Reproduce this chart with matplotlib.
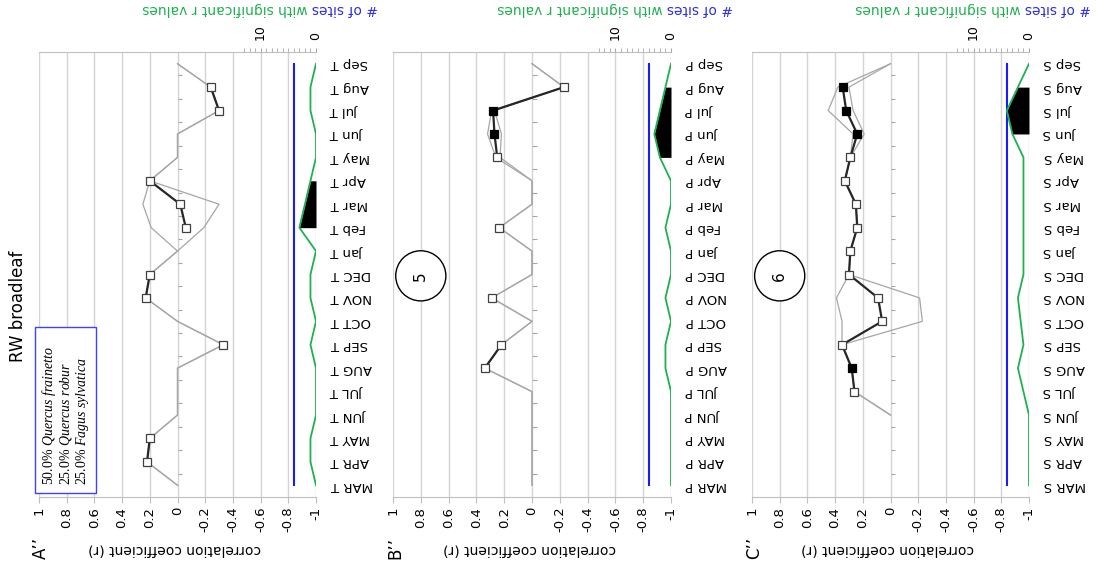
import numpy as np
import matplotlib
matplotlib.use('Agg')
import matplotlib.pyplot as plt
from matplotlib.patches import Rectangle

plt.rcParams['font.family'] = 'DejaVu Sans'
plt.rcParams['mathtext.fontset'] = 'custom'
plt.rcParams['mathtext.rm'] = 'Liberation Serif'
plt.rcParams['mathtext.it'] = 'Liberation Serif:italic'

nan = np.nan

months = ['MAR', 'APR', 'MAY', 'JUN', 'JUL', 'AUG', 'SEP', 'OCT', 'NOV', 'DEC',
          'Jan', 'Feb', 'Mar', 'Apr', 'May', 'Jun', 'Jul', 'Aug', 'Sep']

r_ticks = [1, 0.8, 0.6, 0.4, 0.2, 0, -0.2, -0.4, -0.6, -0.8, -1]
r_labels = ['1', '0.8', '0.6', '0.4', '0.2', '0', '-0.2', '-0.4', '-0.6', '-0.8', '-1']

n_sites = 4

# A'' temperature
a_mean = [nan, 0.22, 0.20, nan, nan, nan, -0.33, nan, 0.23, 0.20, nan, -0.06, -0.02, 0.20, nan, nan, -0.30, -0.24, nan]
a_hi = [0, 0.22, 0.20, 0, 0, 0, -0.33, 0, 0.23, 0.20, 0, 0.19, 0.25, 0.20, 0, 0, -0.30, -0.24, 0]
a_lo = [0, 0.22, 0.20, 0, 0, 0, -0.33, 0, 0.23, 0.20, 0, -0.19, -0.30, 0.20, 0, 0, -0.30, -0.24, 0]
a_filled = [0] * 19
a_sig = [0, 1, 1, 0, 0, 0, 1, 0, 1, 1, 0, 3, 2, 1, 0, 0, 1, 1, 0]
a_block = (11, 13)

# B'' precipitation
b_mean = [nan, nan, nan, nan, nan, 0.34, 0.22, nan, 0.29, nan, nan, 0.235, nan, nan, 0.25, 0.27, 0.28, -0.23, nan]
b_hi = [0, 0, 0, 0, 0, 0.34, 0.22, 0, 0.29, 0, 0, 0.235, 0, 0, 0.26, 0.32, 0.29, -0.23, 0]
b_lo = [0, 0, 0, 0, 0, 0.34, 0.22, 0, 0.29, 0, 0, 0.235, 0, 0, 0.23, 0.22, 0.27, -0.23, 0]
b_filled = [0] * 15 + [1, 1, 0, 0]
b_sig = [0, 0, 0, 0, 0, 1, 1, 0, 1, 0, 0, 1, 0, 0, 2, 3, 2, 1, 0]
b_block = (14, 17)

# C'' SPEI
c_mean = [nan, nan, nan, nan, 0.26, 0.28, 0.35, 0.06, 0.09, 0.30, 0.29, 0.24, 0.25, 0.33, 0.29, 0.24, 0.32, 0.345, nan]
c_hi = [nan, nan, nan, 0, 0.26, 0.28, 0.35, 0.35, 0.39, 0.30, 0.29, 0.24, 0.25, 0.33, 0.29, 0.27, 0.45, 0.38, 0]
c_lo = [nan, nan, nan, 0, 0.26, 0.28, 0.35, -0.23, -0.21, 0.30, 0.29, 0.24, 0.25, 0.33, 0.29, 0.19, 0.27, 0.30, 0]
c_filled = [0, 0, 0, 0, 0, 1, 0, 0, 0, 0, 0, 0, 0, 0, 0, 1, 1, 1, 0]
c_sig = [0, 0, 0, 0, 1, 2, 1, 1.5, 2, 1, 1, 1, 1, 1, 1, 3, 4, 2, 0]
c_block = (15, 17)

panels = [
    ('T', a_mean, a_hi, a_lo, a_filled, a_sig, a_block, 'A\u2019\u2019', None),
    ('P', b_mean, b_hi, b_lo, b_filled, b_sig, b_block, 'B\u2019\u2019', '5'),
    ('S', c_mean, c_hi, c_lo, c_filled, c_sig, c_block, 'C\u2019\u2019', '6'),
]

W, H = 1098, 563
fig = plt.figure(figsize=(W / 100, H / 100), dpi=100)

lefts = [39, 393, 752]
widths = [277, 278, 277]
top_px, bot_px = 52, 497

grey = '#bfbfbf'
green = '#1fb050'
blue = '#1a1aff'

for k, (suf, mean, hi, lo, filled, sig, block, tag, circ) in enumerate(panels):
    ax = fig.add_axes([lefts[k] / W, 1 - bot_px / H, widths[k] / W, (bot_px - top_px) / H])
    ax2 = ax.twiny()
    y = np.arange(len(months))
    mean = np.array(mean)
    filled = np.array(filled, bool)
    sig = np.array(sig, float)

    ax.plot(hi, y, color='#a6a6a6', lw=0.9, zorder=3)
    ax.plot(lo, y, color='#a6a6a6', lw=0.9, zorder=3)
    ax.plot(mean, y, color='#262626', lw=1.6, zorder=4)
    ax.plot(mean[~filled], y[~filled], 's', ms=6, mfc='white', mec='#404040', mew=0.9, zorder=5)
    ax.plot(mean[filled], y[filled], 's', ms=6, mfc='black', mec='black', mew=0.9, zorder=5)

    # small ticks on the category axis at r = 0
    ax.hlines(y[:-1] + 0.5, 0, -0.035, color='#a6a6a6', lw=0.8, zorder=2)

    ax.set_xlim(1, -1)
    ax.set_ylim(-0.5, len(months) - 0.5)
    ax.set_xticks(r_ticks)
    ax.set_xticklabels(r_labels, rotation=90, fontsize=9.5)
    ax.grid(axis='x', color='#d4d4d4', lw=1)
    ax.set_axisbelow(True)
    for s in ax.spines.values():
        s.set_visible(False)
    ax.spines['bottom'].set_visible(True)
    ax.spines['bottom'].set_color(grey)
    ax.tick_params(axis='x', direction='out', length=4, color=grey, pad=3)
    ax.set_yticks(y)
    ax.set_yticklabels([m + ' ' + suf for m in months], rotation=180, ha='right',
                       va='center', rotation_mode='anchor', fontsize=9.5)
    ax.tick_params(axis='y', left=False, right=False, labelleft=False, labelright=True, pad=7)

    # number of sites axis
    ax2.set_xlim(50, 0)
    ax2.plot([n_sites] * len(y), y, color=blue, lw=1.5, zorder=3)
    i0, i1 = block
    ax2.fill_betweenx(y[i0:i1 + 1], 0, sig[i0:i1 + 1], color='black', lw=0, zorder=2)
    ax2.plot(sig, y, color=green, lw=1.3, zorder=4)
    ax2.set_xticks([0, 10])
    ax2.set_xticklabels(['0', '10'], rotation=90, fontsize=9)
    ax2.set_xticks(range(1, 14), minor=True)
    ax2.tick_params(axis='x', which='both', direction='out', length=3, color='#a6a6a6', pad=6)
    for s in ax2.spines.values():
        s.set_visible(False)
    ax2.spines['top'].set_visible(True)
    ax2.spines['top'].set_color(grey)

    t1 = ax.text(1.224, 1.096, '# of sites', rotation=180, rotation_mode='anchor',
                 ha='left', va='center', color='#2e2ee0', fontsize=10, transform=ax.transAxes)
    ax.annotate(' with significant r values', xy=(0, 0.5), xycoords=t1, rotation=180,
                rotation_mode='anchor', ha='left', va='center', color=green, fontsize=10)

    ax.text(0.49, -0.117, 'correlation coefficient (r)', rotation=180, ha='center',
            va='center', fontsize=10, transform=ax.transAxes)

    fig.text((lefts[k] + 2) / W, 1 - 548 / H, tag, rotation=90, ha='center', va='center', fontsize=12)

    if circ:
        ax.text(0.1, 0.497, circ, rotation=90, ha='center', va='center', fontsize=11,
                transform=ax.transAxes, zorder=6,
                bbox=dict(boxstyle='circle,pad=1.15', fc='white', ec='black', lw=1))

fig.text(18 / W, 1 - 306 / H, 'RW broadleaf', rotation=90, ha='center', va='center', fontsize=12)

fig.patches.append(Rectangle((35 / W, 1 - 493 / H), 61 / W, 166 / H, transform=fig.transFigure,
                             fc='white', ec='#4040ff', lw=1, zorder=1))
species = ['50.0% $\\it{Quercus\\ frainetto}$',
           '25.0% $\\it{Quercus\\ robur}$',
           '25.0% $\\it{Fagus\\ sylvatica}$']
for i, txt in enumerate(species):
    fig.text((49 + 16.7 * i) / W, 1 - 485 / H, txt, rotation=90, rotation_mode='anchor',
             ha='left', va='center', fontsize=10, family='Liberation Serif', zorder=3)

fig.savefig('out.png', dpi=100)
